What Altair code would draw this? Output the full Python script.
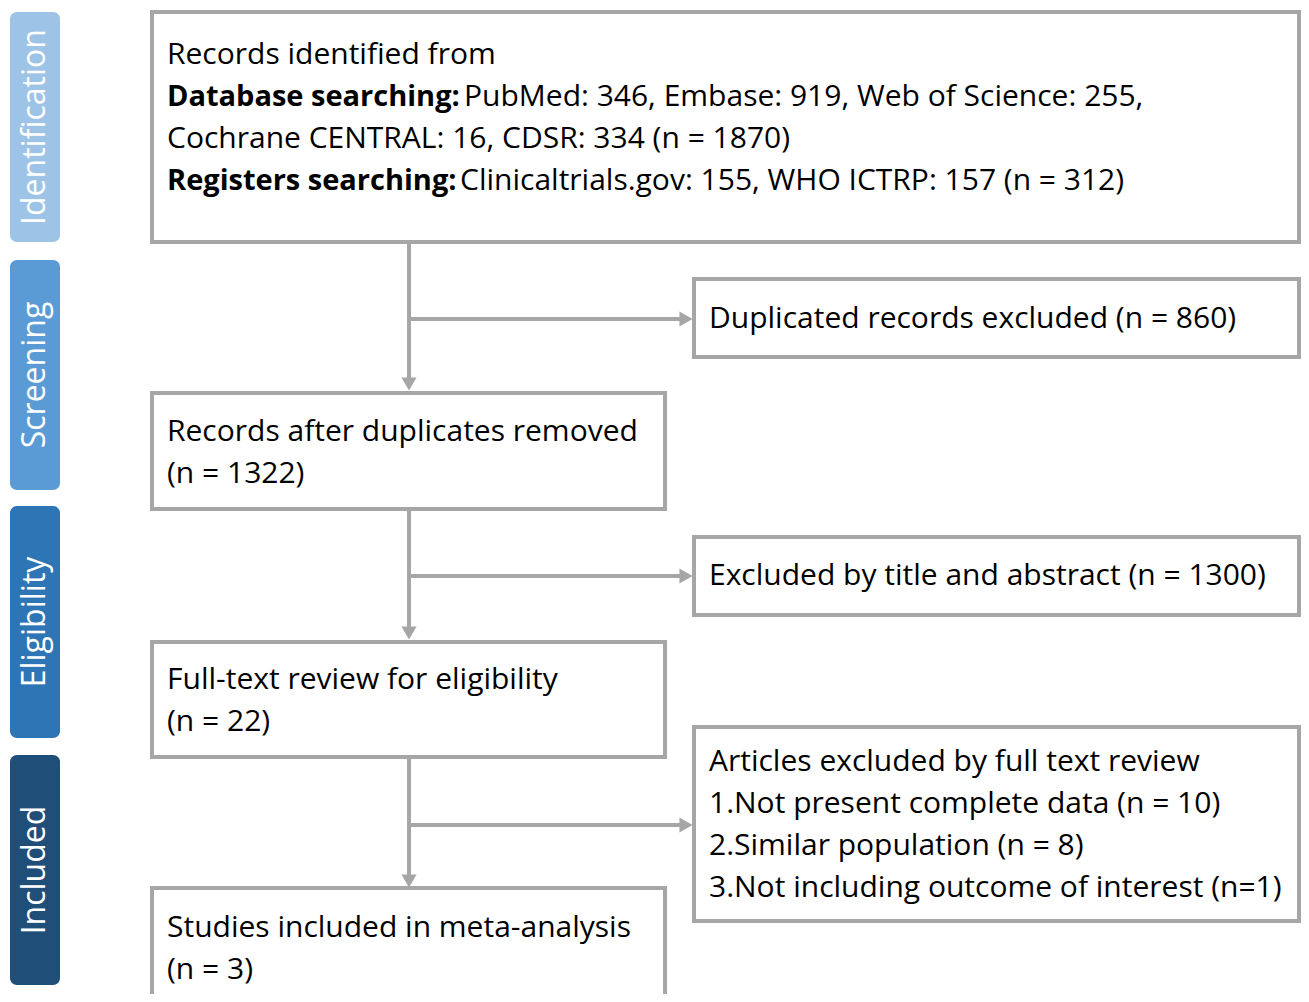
import altair as alt
import pandas as pd

# ---- content ----
phases = ["Identification", "Screening", "Eligibility", "Included"]
phase_colors = ["#9DC3E6", "#5B9BD5", "#2E75B6", "#1F4E79"]

box_lines = [
    ["Records identified from", None, None, None],
    ["Duplicated records excluded (n = 860)"],
    ["Records after duplicates removed", "(n = 1322)"],
    ["Excluded by title and abstract (n = 1300)"],
    ["Full-text review for eligibility", "(n = 22)"],
    ["Articles excluded by full text review",
     "1.Not present complete data (n = 10)",
     "2.Similar population (n = 8)",
     "3.Not including outcome of interest (n=1)"],
    ["Studies included in meta-analysis", "(n = 3)"],
]
bold_labels = ["Database searching:", "Registers searching:"]
bold_rest = ["PubMed: 346, Embase: 919, Web of Science: 255,",
             "Clinicaltrials.gov: 155, WHO ICTRP: 157 (n = 312)"]
plain_line = "Cochrane CENTRAL: 16, CDSR: 334 (n = 1870)"

# ---- layout (reference pixel coordinates) ----
phase_y = [(12, 242), (260, 490), (506, 738), (755, 985)]
boxes = [(152, 1299, 12, 242), (694, 1299, 279, 357), (152, 665, 393, 509),
         (694, 1299, 537, 615), (152, 665, 642, 757), (694, 1299, 727, 921),
         (152, 665, 888, 1030)]
line_y0 = [55, 319, 432, 576, 680, 762, 928]
LINE = 42

GRAY = "#A6A6A6"
FONT = "Open Sans"
FS = 30

xs = alt.Scale(domain=[8, 1301])
ys = alt.Scale(domain=[8, 994], reverse=True)
X = lambda f: alt.X(f, type="quantitative", scale=xs, axis=None)
Y = lambda f: alt.Y(f, type="quantitative", scale=ys, axis=None)

ph = pd.DataFrame({"name": phases, "color": phase_colors,
                   "y": [a for a, b in phase_y], "y2": [b for a, b in phase_y],
                   "x": 10, "x2": 60})
ph["yc"] = (ph["y"] + ph["y2"]) / 2
ph["xc"] = 35

phase_rect = alt.Chart(ph).mark_rect(cornerRadius=7).encode(
    x=X("x"), x2="x2", y=Y("y"), y2="y2",
    color=alt.Color("color:N", scale=None))
phase_text = alt.Chart(ph).mark_text(
    angle=270, color="white", font=FONT, fontSize=32, align="center",
    baseline="middle").encode(x=X("xc"), y=Y("yc"), text="name:N")

bx = pd.DataFrame(boxes, columns=["x", "x2", "y", "y2"])
box_rect = alt.Chart(bx).mark_rect(
    fill="white", stroke=GRAY, strokeWidth=4, clip=True).encode(
    x=X("x"), x2="x2", y=Y("y"), y2="y2")

# text rows
rows = []
for i, lines in enumerate(box_lines):
    x0 = boxes[i][0] + 15
    for j, t in enumerate(lines):
        if t is None:
            continue
        rows.append({"x": x0, "y": line_y0[i] + j * LINE, "t": t})
rows.append({"x": 167, "y": line_y0[0] + 2 * LINE, "t": plain_line})
rows.append({"x": 464, "y": line_y0[0] + 1 * LINE, "t": bold_rest[0]})
rows.append({"x": 460, "y": line_y0[0] + 3 * LINE, "t": bold_rest[1]})
tx = pd.DataFrame(rows)
bold_df = pd.DataFrame({"x": [167, 167],
                        "y": [line_y0[0] + LINE, line_y0[0] + 3 * LINE],
                        "t": bold_labels})

text_plain = alt.Chart(tx).mark_text(
    align="left", baseline="middle", font=FONT, fontSize=FS, color="black").encode(
    x=X("x"), y=Y("y"), text="t:N")
text_bold = alt.Chart(bold_df).mark_text(
    align="left", baseline="middle", font=FONT, fontSize=29, fontWeight="bold",
    color="black").encode(x=X("x"), y=Y("y"), text="t:N")

# connectors
vert = pd.DataFrame({"x": [409, 409, 409], "y": [242, 509, 757],
                     "y2": [380, 628, 876]})
horiz = pd.DataFrame({"x": [409, 409, 409], "x2": [682, 682, 682],
                      "y": [319, 576, 825]})
vrule = alt.Chart(vert).mark_rule(color=GRAY, strokeWidth=4).encode(
    x=X("x"), y=Y("y"), y2="y2")
hrule = alt.Chart(horiz).mark_rule(color=GRAY, strokeWidth=4).encode(
    x=X("x"), x2="x2", y=Y("y"))
heads_down = pd.DataFrame({"x": [409, 409, 409], "y": [384, 633, 881]})
heads_right = pd.DataFrame({"x": [686, 686, 686], "y": [319, 576, 825]})
hd = alt.Chart(heads_down).mark_point(
    shape="triangle-down", filled=True, color=GRAY, size=230, opacity=1).encode(
    x=X("x"), y=Y("y"))
hr = alt.Chart(heads_right).mark_point(
    shape="triangle-right", filled=True, color=GRAY, size=230, opacity=1).encode(
    x=X("x"), y=Y("y"))

chart = alt.layer(phase_rect, phase_text, vrule, hrule, hd, hr, box_rect,
                  text_plain, text_bold).properties(
    width=1293, height=986, padding=0,
    autosize=alt.AutoSizeParams(type="none")).configure_view(stroke=None)

chart.save("out.html", embed_options={"renderer": "svg", "actions": False})
